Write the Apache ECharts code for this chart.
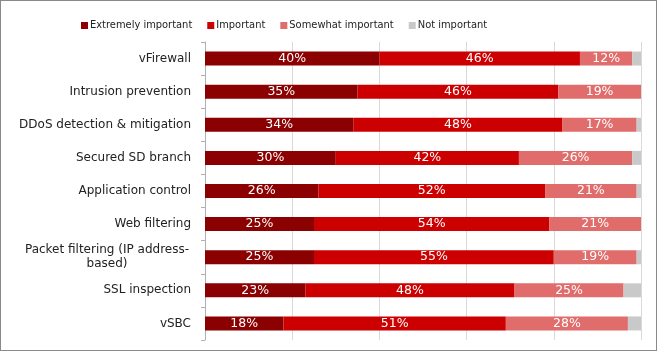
<!DOCTYPE html>
<html>
<head>
<meta charset="utf-8">
<script src="https://cdn.jsdelivr.net/npm/echarts@6/dist/echarts.min.js"></script>
<style>
  html, body { margin: 0; padding: 0; background: #fff; }
  #frame {
    position: absolute; left: 0; top: 0;
    width: 655px; height: 349px;
    border: 1.5px solid #8a8a8a;
  }
  #main { position: absolute; left: 0; top: 0; width: 659px; height: 354px; }
</style>
</head>
<body>
<div id="main"></div>
<div id="frame"></div>
<script>
// categories, top to bottom
var categories = ['vFirewall', 'Intrusion prevention', 'DDoS detection & mitigation', 'Secured SD branch',
  'Application control', 'Web filtering', 'Packet filtering (IP address-\nbased)', 'SSL inspection', 'vSBC'];

var extremely = [40, 35, 34, 30, 26, 25, 25, 23, 18];
var important = [46, 46, 48, 42, 52, 54, 55, 48, 51];
var somewhat  = [12, 19, 17, 26, 21, 21, 19, 25, 28];
var notImp    = [2, 0, 1, 2, 1, 0, 1, 4, 3];

var seriesNames = ['Extremely important', 'Important', 'Somewhat important', 'Not important'];
var colors = ['#8b0000', '#cc0000', '#e06c6c', '#c9c9c9'];

var font = '"DejaVu Sans", Verdana, sans-serif';
var legendFont = '"DejaVu Sans Condensed", "DejaVu Sans", sans-serif';

function makeSeries(name, data, color, showLabel) {
  return {
    name: name,
    type: 'bar',
    stack: 'total',
    barWidth: 14,
    data: data,
    itemStyle: { color: color },
    label: {
      show: showLabel,
      position: 'inside',
      color: '#fff',
      fontFamily: font,
      fontSize: 12.5,
      formatter: '{c}%'
    }
  };
}

var chart = echarts.init(document.getElementById('main'));
chart.setOption({
  animation: false,
  color: colors,
  legend: {
    top: 15,
    left: 76,
    itemWidth: 7,
    itemHeight: 7,
    itemGap: 15,
    icon: 'rect',
    textStyle: { fontFamily: legendFont, fontSize: 11, color: '#222', padding: [0, 0, 0, -3] },
    data: seriesNames
  },
  grid: { left: 205, right: 18, top: 42, bottom: 14, containLabel: false },
  xAxis: {
    type: 'value',
    min: 0,
    max: 100,
    interval: 20,
    axisLabel: { show: false },
    axisLine: { show: false },
    axisTick: { show: false },
    splitLine: { show: true, lineStyle: { color: '#d9d9d9', width: 1 } }
  },
  yAxis: {
    type: 'category',
    inverse: true,
    data: categories,
    axisLine: { show: true, lineStyle: { color: '#b0b0b0' } },
    axisTick: { show: true, length: 4, lineStyle: { color: '#b0b0b0' } },
    axisLabel: {
      fontFamily: font,
      fontSize: 12,
      color: '#222',
      margin: 14,
      lineHeight: 14,
      align: 'right',
      formatter: function (v) {
        if (v.indexOf('\n') < 0) return v;
        var parts = v.split('\n');
        return '{c|' + parts[0] + '}\n{c|' + parts[1] + '}';
      },
      rich: {
        c: { width: 168, align: 'center', fontFamily: font, fontSize: 12, color: '#222', lineHeight: 14 }
      }
    }
  },
  series: [
    makeSeries(seriesNames[0], extremely, colors[0], true),
    makeSeries(seriesNames[1], important, colors[1], true),
    makeSeries(seriesNames[2], somewhat, colors[2], true),
    makeSeries(seriesNames[3], notImp, colors[3], false)
  ]
});
</script>
</body>
</html>
